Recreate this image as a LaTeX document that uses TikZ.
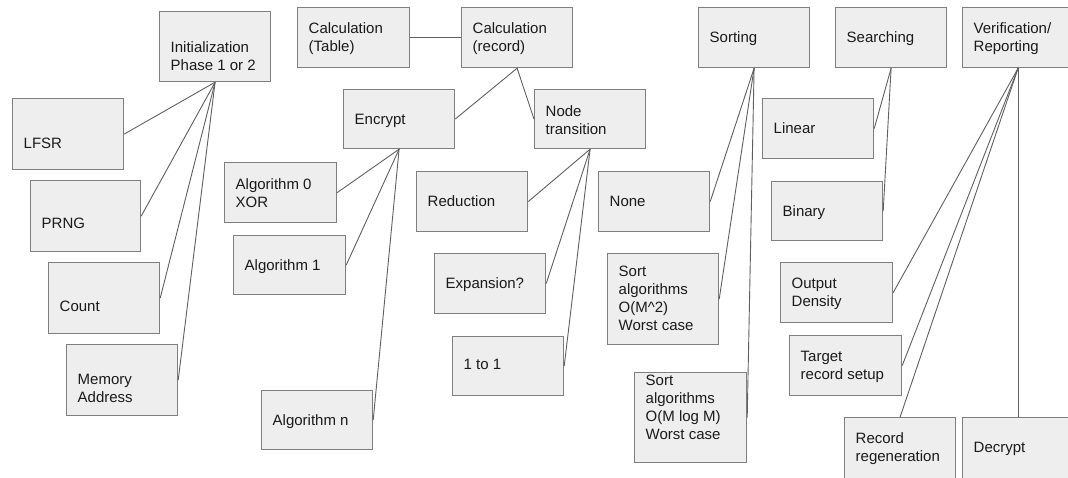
\documentclass[tikz,border=0pt]{standalone}
\usepackage{fontspec}
\setmainfont{Liberation Sans}
\usetikzlibrary{calc}
\definecolor{boxfill}{HTML}{EEEEEE}
\definecolor{boxline}{HTML}{7F7F7F}
\definecolor{connline}{HTML}{5F5F5F}
\definecolor{txtcol}{HTML}{1A1A1A}
\tikzset{
  bx/.style={draw=boxline, fill=boxfill, line width=1.2pt, inner sep=0pt, rectangle},
  lbl/.style={font=\fontsize{15}{18}\selectfont, align=left, inner sep=0pt, text=txtcol},
  conn/.style={draw=connline, line width=0.9pt}
}
\newcommand\mybox[7]{%
  \node[bx, minimum width=#4pt, minimum height=#5pt, anchor=north west] (#1) at (#2,#3) {};
  \node[lbl, anchor=north west] (#1-t) at (#2+11.5,#6) {#7};
}
\begin{document}
\begin{tikzpicture}[x=1pt,y=-1pt]
\useasboundingbox (0,0) rectangle (1068,477);
% left group
\mybox{init}{159}{11}{111}{70}{41.7}{Initialization\\Phase 1 or 2}
\mybox{lfsr}{12}{98}{111}{71}{138.3}{LFSR}
\mybox{prng}{30}{180}{110}{71}{218.3}{PRNG}
\mybox{count}{48}{262}{111}{71}{301}{Count}
\mybox{mem}{66}{344}{111}{71}{374.3}{Memory\\Address}
% calculation group
\mybox{calct}{297}{7}{112}{60}{22.7}{Calculation\\(Table)}
\mybox{calcr}{461}{7}{111}{60}{22.7}{Calculation\\(record)}
\mybox{encrypt}{343}{89}{111}{59}{114.3}{Encrypt}
\mybox{nodet}{534}{89}{111}{59}{105}{Node\\transition}
\mybox{alga}{224}{162}{112}{60}{178.3}{Algorithm 0\\XOR}
\mybox{algb}{233}{235}{112}{59}{259.3}{Algorithm 1}
\mybox{algn}{261}{390}{111}{59}{414}{Algorithm n}
\mybox{red}{416}{171}{111}{60}{195.7}{Reduction}
\mybox{expn}{434}{253}{111}{60}{277.7}{Expansion?}
\mybox{one}{452}{336}{111}{59}{359.3}{1 to 1}
% sorting group
\mybox{sorting}{698}{7}{111}{60}{31}{Sorting}
\mybox{none}{598}{171}{111}{60}{195.7}{None}
\mybox{sorta}{607}{253}{111}{91}{266}{Sort\\algorithms\\O(M\^{}2)\\Worst case}
\mybox{sortb}{634}{372}{112}{90}{375}{Sort\\algorithms\\O(M log M)\\Worst case}
% searching group
\mybox{search}{835}{7}{111}{60}{31}{Searching}
\mybox{linear}{762}{98}{111}{60}{122.7}{Linear}
\mybox{binary}{771}{181}{111}{59}{205}{Binary}
% verification group
\mybox{verif}{962}{7}{111}{60}{22.7}{Verification/\\Reporting}
\mybox{output}{780}{262}{112}{60}{278.3}{Output\\Density}
\mybox{target}{789}{335}{112}{60}{351}{Target\\record setup}
\mybox{recreg}{844}{417}{111}{61}{432.7}{Record\\regeneration}
\mybox{decrypt}{962}{417}{111}{61}{441.7}{Decrypt}
% connectors
\draw[conn] (init.south) -- (lfsr.east);
\draw[conn] (init.south) -- (prng.east);
\draw[conn] (init.south) -- (count.east);
\draw[conn] (init.south) -- (mem.east);
\draw[conn] (calct.east) -- (calcr.west);
\draw[conn] (calcr.south) -- (encrypt.east);
\draw[conn] (calcr.south) -- (nodet.west);
\draw[conn] (encrypt.south) -- (alga.east);
\draw[conn] (encrypt.south) -- (algb.east);
\draw[conn] (encrypt.south) -- (algn.east);
\draw[conn] (nodet.south) -- (red.east);
\draw[conn] (nodet.south) -- (expn.east);
\draw[conn] (nodet.south) -- (one.east);
\draw[conn] (sorting.south) -- (none.east);
\draw[conn] (sorting.south) -- (sorta.east);
\draw[conn] (sorting.south) -- (sortb.east);
\draw[conn] (search.south) -- (linear.east);
\draw[conn] (search.south) -- (binary.east);
\draw[conn] (verif.south) -- (output.east);
\draw[conn] (verif.south) -- (target.east);
\draw[conn] (verif.south) -- (recreg.north);
\draw[conn] (verif.south) -- (decrypt.north);
\end{tikzpicture}
\end{document}
